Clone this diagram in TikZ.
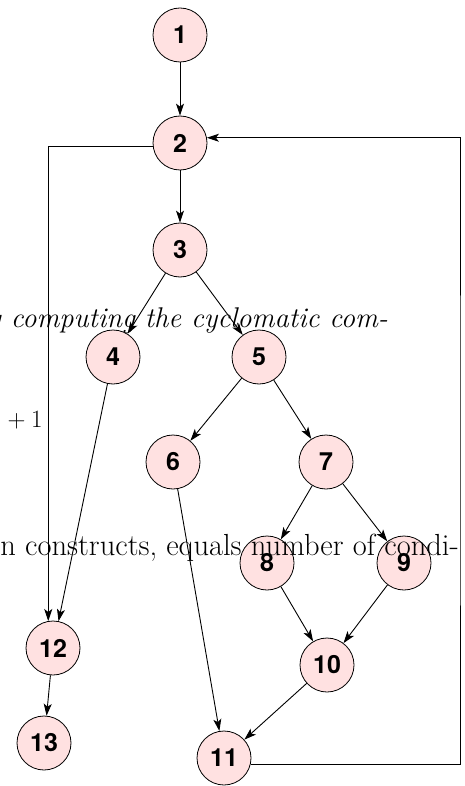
\documentclass[tikz,border=0pt]{standalone}
\usepackage{fontspec}
\newfontfamily\numfont{TeX Gyre Heros}
\usepackage{xcolor}
\definecolor{nodepink}{HTML}{FFE1E1}
\usetikzlibrary{arrows.meta, calc}
\tikzset{
  vnode/.style={circle, draw=black, line width=0.8pt, fill=nodepink, minimum size=54pt,
                inner sep=0pt, font=\numfont\bfseries\fontsize{25}{25}\selectfont},
  varr/.style ={-{Stealth[length=12pt, width=8pt, inset=3pt]}, line width=0.9pt, color=black},
  bgtxt/.style={inner sep=0pt},
}
\begin{document}
\begin{tikzpicture}[x=1pt, y=-1pt]
  \useasboundingbox (0,0) rectangle (465,786);
  \clip (0,0) rectangle (465,786);
  % nodes
  \node[vnode] (n1)  at (180,35)  {1};
  \node[vnode] (n2)  at (180,143) {2};
  \node[vnode] (n3)  at (180,250) {3};
  \node[vnode] (n4)  at (113,357) {4};
  \node[vnode] (n5)  at (259,357) {5};
  \node[vnode] (n6)  at (173,462) {6};
  \node[vnode] (n7)  at (326,462) {7};
  \node[vnode] (n8)  at (267,563) {8};
  \node[vnode] (n9)  at (404,563) {9};
  \node[vnode] (n10) at (327,665) {10};
  \node[vnode] (n11) at (224,758) {11};
  \node[vnode] (n12) at (53,648)  {12};
  \node[vnode] (n13) at (44,743)  {13};
  \coordinate (ret) at (460,450);
  % edges
  \draw[varr] (n1) -- (n2);
  \draw[varr] (n2) -- (n3);
  \draw[varr] (n2.188) -| (n12.100);
  \draw[varr] (n3) -- (n4);
  \draw[varr] (n3) -- (n5);
  \draw[varr] (n4) -- (n12);
  \draw[varr] (n5) -- (n6);
  \draw[varr] (n5) -- (n7);
  \draw[varr] (n6) -- (n11);
  \draw[varr] (n7) -- (n8);
  \draw[varr] (n7) -- (n9);
  \draw[varr] (n8) -- (n10);
  \draw[varr] (n9) -- (n10);
  \draw[varr] (n10) -- (n11);
  \draw[varr] (n12) -- (n13);
  \draw[varr] (n11.347) -| (ret) |- (n2.11);
  % text of the page behind the graph
  \node[bgtxt, anchor=base east, font=\fontsize{28.5}{30}\selectfont] (t1) at (388,327) {\itshape y computing the cyclomatic com-};
  \node[bgtxt, anchor=base west, font=\fontsize{28}{30}\selectfont] (t2) at (2,427) {${}+1$};
  \node[bgtxt, anchor=base east, font=\fontsize{30.5}{32}\selectfont] (t3) at (459,555) {n constructs, equals number of condi-};
\end{tikzpicture}
\end{document}
